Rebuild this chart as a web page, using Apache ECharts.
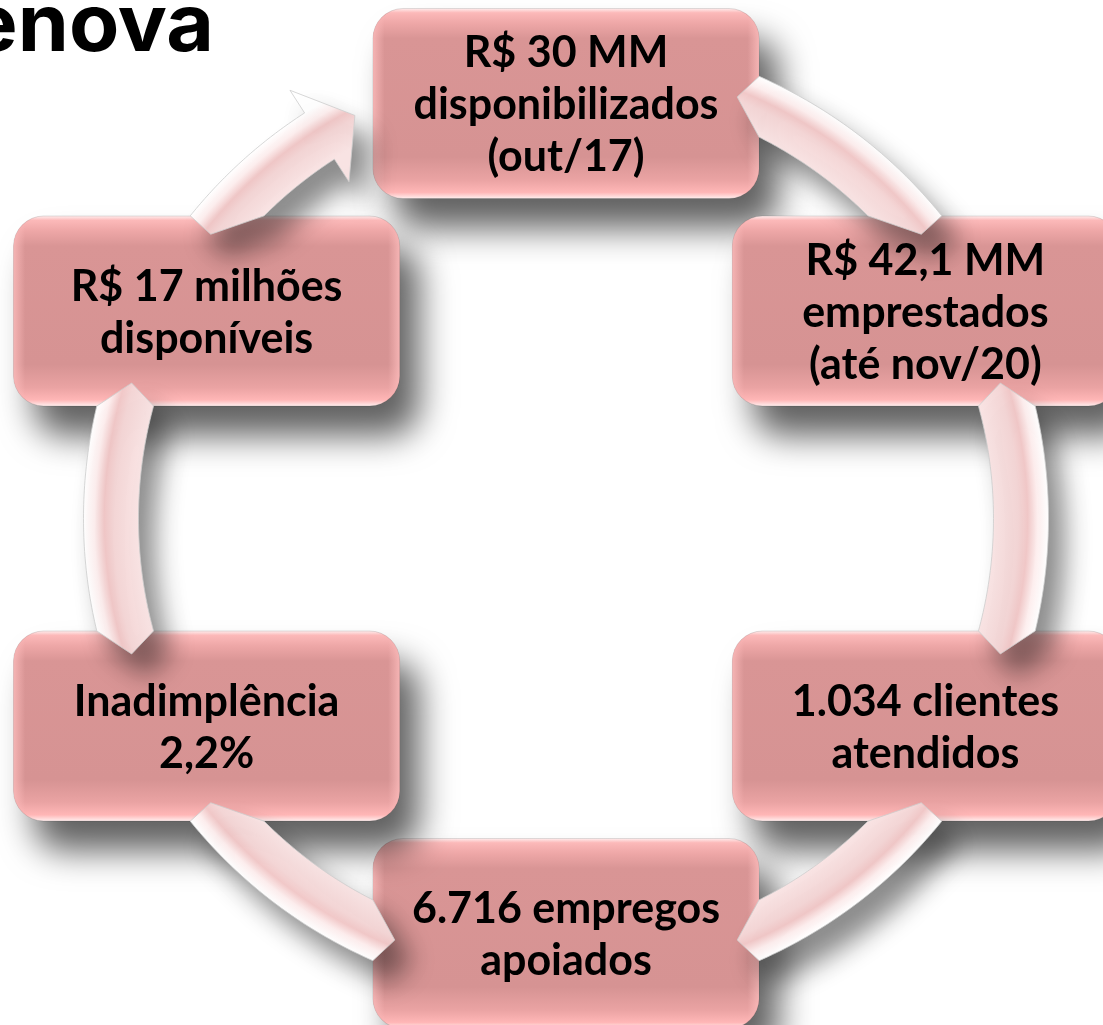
<!DOCTYPE html>
<html>
<head>
<meta charset="utf-8">
<script src="https://cdn.jsdelivr.net/npm/echarts@6/dist/echarts.min.js"></script>
<style>
html,body{margin:0;padding:0;background:#ffffff;overflow:hidden}
#main{width:1103px;height:1025px}
</style>
</head>
<body>
<div id="main"></div>
<script>
// ---------- data ----------
const stageKeys = ['disponibilizado', 'emprestado', 'clientes', 'empregos', 'inadimplencia', 'disponivel'];
const stageLabels = [
  'R$ 30 MM\ndisponibilizados\n(out/17)',
  'R$ 42,1 MM\nemprestados\n(até nov/20)',
  '1.034 clientes\natendidos',
  '6.716 empregos\napoiados',
  'Inadimplência\n2,2%',
  'R$ 17 milhões\ndisponíveis'
];
const flowFrom = [0, 1, 2, 3, 4, 5];
const flowTo = [1, 2, 3, 4, 5, 0];
const flowHasHead = [false, false, false, false, false, true];
const logoText = 'enova';

// ---------- layout / style constants ----------
const CX = 566, CY = 518.5, RING = 455;
const BOX_V = 415 / 455;          // box ring radius as radius-axis value
const BOX_W = 386, BOX_H = 190, BOX_RAD = 30;
const BAND = 55, TIP = 24, HEAD_LEN = 41, HEAD_W = 109, HEAD_GAP = 20;
const FONT = 'Lato, "Open Sans", sans-serif';

const chart = echarts.init(document.getElementById('main'), null, {renderer: 'canvas'});

function renderBox(params, api) {
  const i = params.dataIndex;
  const c = api.coord([api.value(0), api.value(1)]);
  const x = c[0] - BOX_W / 2, y = c[1] - BOX_H / 2;
  const fill = new echarts.graphic.LinearGradient(0, 0, 0, 1, [
    {offset: 0, color: '#fff3f3'},
    {offset: 0.025, color: '#fcb9b9'},
    {offset: 0.08, color: '#eea7a7'},
    {offset: 0.16, color: '#d99595'},
    {offset: 0.78, color: '#d69393'},
    {offset: 0.9, color: '#eaa3a3'},
    {offset: 0.965, color: '#ffb6b6'},
    {offset: 1, color: '#fff2f2'}
  ]);
  const side = new echarts.graphic.LinearGradient(0, 0, 1, 0, [
    {offset: 0, color: 'rgba(255,190,190,0.75)'},
    {offset: 0.03, color: 'rgba(255,190,190,0)'},
    {offset: 0.97, color: 'rgba(255,190,190,0)'},
    {offset: 1, color: 'rgba(255,190,190,0.75)'}
  ]);
  return {
    type: 'group',
    children: [
      {type: 'rect', shape: {x, y, width: BOX_W, height: BOX_H, r: BOX_RAD},
       style: {fill, stroke: 'rgba(0,0,0,0.12)', lineWidth: 1,
                shadowBlur: 34, shadowOffsetX: 20, shadowOffsetY: 30, shadowColor: 'rgba(0,0,0,0.62)'}},
      {type: 'rect', shape: {x, y, width: BOX_W, height: BOX_H, r: BOX_RAD},
       style: {fill: side}},
      {type: 'text', x: c[0], y: c[1] + 2,
       style: {text: stageLabels[i], fill: '#000', fontFamily: FONT, fontWeight: 'bold', fontSize: 43,
                lineHeight: 52, align: 'center', verticalAlign: 'middle'}}
    ]
  };
}

function renderArrow(params, api) {
  const idx = params.dataIndex;
  const from = flowFrom[idx], to = flowTo[idx];
  const pc = api.coord([1, from]);
  const cx = params.coordSys.cx, cy = params.coordSys.cy;
  const R = Math.hypot(pc[0] - cx, pc[1] - cy);
  const pFrom = api.coord([BOX_V, from]), pTo = api.coord([BOX_V, to]);
  const ang = p => Math.atan2(p[1] - cy, p[0] - cx);
  const a0 = ang(pFrom);
  let a1 = ang(pTo);
  while (a1 <= a0) a1 += Math.PI * 2;
  const pt = (rho, a) => [cx + rho * Math.cos(a), cy + rho * Math.sin(a)];
  const inRect = (p, c) => Math.abs(p[0] - c[0]) <= BOX_W / 2 && Math.abs(p[1] - c[1]) <= BOX_H / 2;
  const st = 0.0005;
  const exitA = rho => { let a = a0; while (a < a1 && inRect(pt(rho, a), pFrom)) a += st; return a; };
  const enterA = rho => { let a = a1; while (a > a0 && inRect(pt(rho, a), pTo)) a -= st; return a; };
  const rIn = R - BAND / 2, rOut = R + BAND / 2;
  const o0 = exitA(rOut), n0 = exitA(rIn), c0 = exitA(R);
  const o1 = enterA(rOut), n1 = enterA(rIn), c1 = enterA(R);
  const N = 48;
  const pts = [];
  pts.push(pt(R, c0 - TIP / R));
  if (flowHasHead[idx]) {
    const aT = c1 - HEAD_GAP / R;
    const aB = aT - HEAD_LEN / R;
    for (let k = 0; k <= N; k++) pts.push(pt(rOut, o0 + (aB - o0) * k / N));
    pts.push(pt(R + HEAD_W / 2, aB));
    pts.push(pt(R, aT));
    pts.push(pt(R - HEAD_W / 2, aB));
    for (let k = N; k >= 0; k--) pts.push(pt(rIn, n0 + (aB - n0) * k / N));
  } else {
    for (let k = 0; k <= N; k++) pts.push(pt(rOut, o0 + (o1 - o0) * k / N));
    pts.push(pt(R, c1 + TIP / R));
    for (let k = N; k >= 0; k--) pts.push(pt(rIn, n0 + (n1 - n0) * k / N));
  }
  const GR = R + 60;
  const s = px => Math.max(0, Math.min(1, px / GR));
  const fill = new echarts.graphic.RadialGradient(cx, cy, GR, [
    {offset: 0, color: '#f9e6e6'},
    {offset: s(rIn), color: '#f9e4e4'},
    {offset: s(rIn + BAND * 0.45), color: '#f4d6d6'},
    {offset: s(rIn + BAND * 0.62), color: '#f1c8c8'},
    {offset: s(rIn + BAND * 0.8), color: '#fdeeee'},
    {offset: s(rOut), color: '#ffffff'},
    {offset: 1, color: '#ffffff'}
  ], true);
  return {
    type: 'polygon',
    shape: {points: pts},
    style: {fill, stroke: '#cdcdcd', lineWidth: 0.8,
            shadowBlur: 26, shadowOffsetX: 16, shadowOffsetY: 22, shadowColor: 'rgba(0,0,0,0.45)'}
  };
}

const option = {
  animation: false,
  backgroundColor: '#ffffff',
  polar: {center: [CX, CY], radius: RING},
  angleAxis: {
    type: 'category', data: stageKeys, startAngle: 120, clockwise: true,
    axisLine: {show: false}, axisTick: {show: false}, axisLabel: {show: false}, splitLine: {show: false}
  },
  radiusAxis: {
    type: 'value', min: 0, max: 1,
    axisLine: {show: false}, axisTick: {show: false}, axisLabel: {show: false}, splitLine: {show: false}
  },
  graphic: [{
    type: 'text', x: 214, y: 27, z: 10, scaleX: 1.04,
    style: {text: logoText, fill: '#000000', fontFamily: 'Inter, "Open Sans", sans-serif', fontWeight: 'bold',
            fontSize: 79, align: 'right', verticalAlign: 'middle'}
  }],
  series: [
    {
      type: 'custom', coordinateSystem: 'polar', z: 2, clip: false,
      renderItem: renderBox,
      data: stageKeys.map((k, i) => [BOX_V, i])
    },
    {
      type: 'custom', coordinateSystem: 'polar', z: 3, clip: false,
      renderItem: renderArrow,
      data: flowFrom.map((f) => [1, f])
    }
  ]
};
chart.setOption(option);
</script>
</body>
</html>
